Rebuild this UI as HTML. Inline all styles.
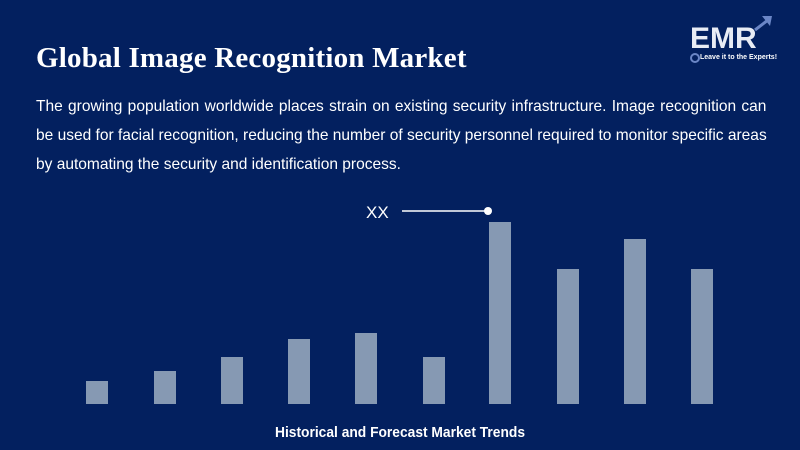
<!DOCTYPE html>
<html><head><style>
body{margin:0;width:800px;height:450px;background:#03205f;overflow:hidden;position:relative;font-family:"Liberation Sans",sans-serif;color:#fff}
h1{position:absolute;left:36px;top:42px;margin:0;font-family:"Liberation Serif",serif;font-size:29px;font-weight:bold;letter-spacing:0.2px}
.p{position:absolute;left:36px;top:92px;width:753px;margin:0;font-size:16px;line-height:29px;transform:scaleX(0.97);transform-origin:0 0}
.p div{white-space:nowrap}
.j{text-align:justify;text-align-last:justify}
.b{position:absolute;width:22px;background:#8699b3;bottom:46px}
.cap{position:absolute;left:0;width:800px;top:424px;text-align:center;font-size:15px;font-weight:bold;transform:scaleX(0.92)}
</style></head><body>
<h1>Global Image Recognition Market</h1>
<div class="p">
<div class="j">The growing population worldwide places strain on existing security infrastructure. Image recognition can</div>
<div class="j">be used for facial recognition, reducing the number of security personnel required to monitor specific areas</div>
<div>by automating the security and identification process.</div>
</div>
<div style="position:absolute;left:690px;top:22px;font-size:30px;font-weight:bold;font-family:'Liberation Sans',sans-serif;color:#e8ecf5">EMR</div>
<div style="position:absolute;left:700px;top:54px;font-size:7px;font-weight:bold;color:#fff">Leave it to the Experts!</div>
<div style="position:absolute;left:690px;top:53px;width:6px;height:6px;border:2px solid #6b86c6;border-radius:50%"></div>
<svg style="position:absolute;left:0;top:0" width="800" height="450">
<line x1="755" y1="30" x2="768" y2="20" stroke="#6b86c6" stroke-width="3"/>
<polygon points="762,16 772,16 770,26" fill="#6b86c6"/>
<line x1="402" y1="211" x2="488" y2="211" stroke="#fff" stroke-width="1.5"/>
<circle cx="488" cy="211" r="4" fill="#fff"/>
<text x="366" y="218" font-family="Liberation Sans" font-size="17" fill="#fff" font-weight="300">XX</text>
</svg>
<div class="b" style="left:86px;top:381px"></div>
<div class="b" style="left:154px;top:371px"></div>
<div class="b" style="left:221px;top:357px"></div>
<div class="b" style="left:288px;top:339px"></div>
<div class="b" style="left:355px;top:333px"></div>
<div class="b" style="left:423px;top:357px"></div>
<div class="b" style="left:489px;top:222px"></div>
<div class="b" style="left:557px;top:269px"></div>
<div class="b" style="left:624px;top:239px"></div>
<div class="b" style="left:691px;top:269px"></div>
<div class="cap">Historical and Forecast Market Trends</div>
</body></html>
